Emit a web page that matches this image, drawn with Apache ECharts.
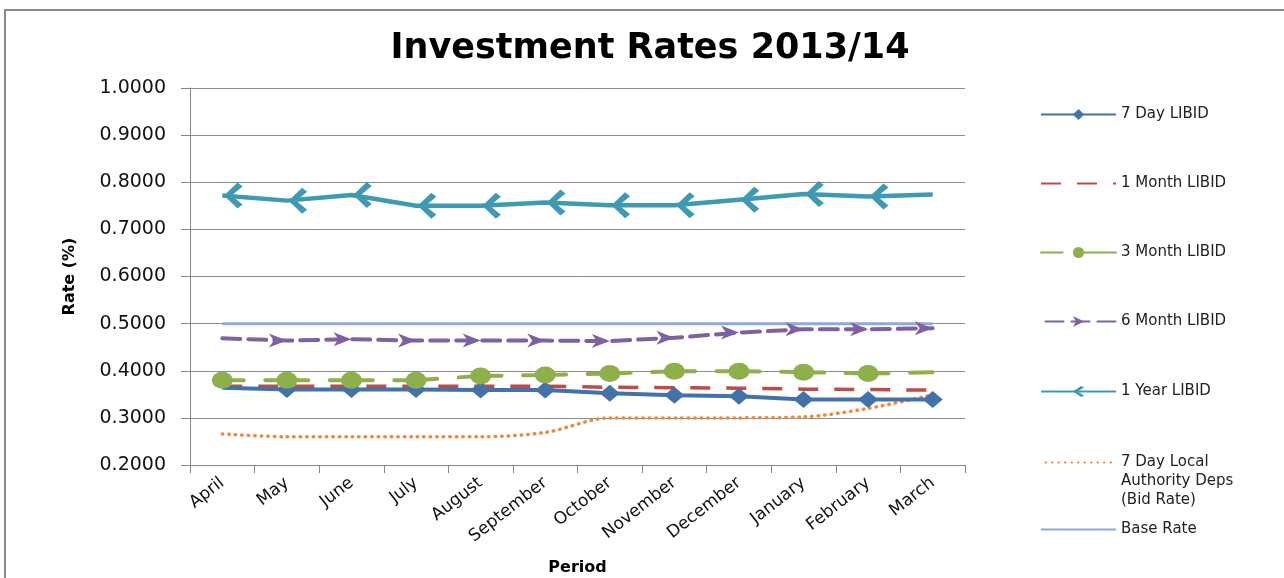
<!DOCTYPE html>
<html>
<head>
<meta charset="utf-8">
<script src="https://cdn.jsdelivr.net/npm/echarts@6/dist/echarts.min.js"></script>
<style>
  html, body { margin: 0; padding: 0; background: #fff; }
  #chart { width: 1284px; height: 578px; }
</style>
</head>
<body>
<div id="chart"></div>
<script>
// data
var months = ['April', 'May', 'June', 'July', 'August', 'September', 'October', 'November', 'December', 'January', 'February', 'March']
var yTicks = [0.2, 0.3, 0.4, 0.5, 0.6, 0.7, 0.8, 0.9, 1.0]

var sevenDay = [0.364, 0.360, 0.360, 0.360, 0.359, 0.359, 0.352, 0.348, 0.346, 0.339, 0.339, 0.339]
var oneMonth = [0.367, 0.367, 0.367, 0.367, 0.367, 0.367, 0.365, 0.364, 0.363, 0.361, 0.360, 0.359]
var threeMonth = [0.380, 0.380, 0.380, 0.380, 0.389, 0.391, 0.394, 0.399, 0.399, 0.397, 0.394, 0.397]
var sixMonth = [0.469, 0.464, 0.467, 0.464, 0.464, 0.464, 0.463, 0.470, 0.481, 0.488, 0.488, 0.490]
var oneYear = [0.772, 0.761, 0.773, 0.750, 0.750, 0.757, 0.751, 0.751, 0.763, 0.775, 0.770, 0.774]
var localAuth = [0.266, 0.260, 0.260, 0.260, 0.260, 0.269, 0.300, 0.300, 0.300, 0.302, 0.320, 0.349]
var baseRate = [0.5, 0.5, 0.5, 0.5, 0.5, 0.5, 0.5, 0.5, 0.5, 0.5, 0.5, 0.5]

var seriesNames = ['7 Day LIBID', '1 Month LIBID', '3 Month LIBID', '6 Month LIBID', '1 Year LIBID', '7 Day Local Authority Deps (Bid Rate)', 'Base Rate']
var legendCenters = [115, 184, 253, 322, 392, 461, 530]

var leftArrow = 'path://M16,0 L22,4 L9,13 L22,22 L16,26 L0,13 Z'
var rightArrow = 'path://M0,0 L18,7 L0,14 L5,7 Z'

var font = 'DejaVu Sans'

// markers sit on one end of each segment, so one end point has none
function dropMarker(arr, idx) {
  return arr.map(function (v, i) {
    return i === idx ? { value: v, symbol: 'none' } : v
  })
}

var noMarkerInLegend = [1, 5, 6]

var legends = seriesNames.map(function (name, i) {
  var multi = i === 5
  return {
    data: [name],
    orient: 'vertical',
    left: 1040,
    top: multi ? legendCenters[i] - 46 : legendCenters[i] - 10,
    padding: 0,
    itemWidth: 75,
    itemHeight: 14,
    itemGap: 5,
    selectedMode: false,
    itemStyle: noMarkerInLegend.indexOf(i) >= 0 ? { opacity: 0 } : {},
    formatter: multi ? function () { return '\n\n7 Day Local\nAuthority Deps\n(Bid Rate)' } : null,
    textStyle: {
      fontFamily: font,
      fontSize: 15,
      color: '#222',
      lineHeight: 19
    }
  }
})

var option = {
  animation: false,
  backgroundColor: '#fff',
  title: {
    text: 'Investment Rates 2013/14',
    left: 645,
    top: 26,
    textAlign: 'center',
    textStyle: { fontFamily: font, fontWeight: 'bold', fontSize: 35, color: '#000' }
  },
  legend: legends,
  graphic: [{
    type: 'rect',
    shape: { x: 5, y: 10, width: 1300, height: 620 },
    style: { fill: null, stroke: '#8a8a8a', lineWidth: 2 },
    silent: true
  }],
  grid: { left: 190, right: 319, top: 88, bottom: 113, outerBoundsMode: 'none', containLabel: false },
  xAxis: {
    type: 'category',
    data: months,
    boundaryGap: true,
    name: 'Period',
    nameLocation: 'middle',
    nameGap: 95,
    nameTextStyle: { fontFamily: font, fontWeight: 'bold', fontSize: 16, color: '#000' },
    axisLine: { lineStyle: { color: '#868686', width: 1 } },
    axisTick: { show: true, alignWithLabel: false, length: 8, lineStyle: { color: '#868686' } },
    axisLabel: { rotate: 38, margin: 16, interval: 0, fontFamily: font, fontSize: 17, color: '#111' }
  },
  yAxis: {
    type: 'value',
    min: yTicks[0],
    max: yTicks[yTicks.length - 1],
    interval: 0.1,
    name: 'Rate (%)',
    nameLocation: 'middle',
    nameGap: 112,
    nameTextStyle: { fontFamily: font, fontWeight: 'bold', fontSize: 16, color: '#000' },
    axisLine: { show: true, lineStyle: { color: '#868686', width: 1 } },
    axisTick: { show: true, length: 9, lineStyle: { color: '#868686' } },
    axisLabel: {
      margin: 24,
      fontFamily: font,
      fontSize: 19,
      color: '#111',
      formatter: function (v) { return v.toFixed(4) }
    },
    splitLine: { lineStyle: { color: '#8c8c8c', width: 1 } }
  },
  series: [
    {
      name: seriesNames[5],
      type: 'line',
      data: localAuth,
      smooth: 0.3,
      symbol: 'none',
      z: 3,
      itemStyle: { color: '#f0883a' },
      lineStyle: { color: '#f0883a', width: 3.5, type: [0.5, 6], cap: 'round' }
    },
    {
      name: seriesNames[6],
      type: 'line',
      data: baseRate,
      symbol: 'none',
      z: 2,
      itemStyle: { color: '#8eaadb' },
      lineStyle: { color: '#8eaadb', width: 3 }
    },
    {
      name: seriesNames[1],
      type: 'line',
      data: oneMonth,
      symbol: 'none',
      z: 3,
      itemStyle: { color: '#be4b48' },
      lineStyle: { color: '#be4b48', width: 3.5, type: [20, 16], dashOffset: 0 }
    },
    {
      name: seriesNames[0],
      type: 'line',
      data: dropMarker(sevenDay, 0),
      symbol: 'diamond',
      symbolSize: [20, 17],
      z: 4,
      itemStyle: { color: '#4372ab' },
      lineStyle: { color: '#4372ab', width: 4 }
    },
    {
      name: seriesNames[2],
      type: 'line',
      data: dropMarker(threeMonth, threeMonth.length - 1),
      symbol: 'circle',
      symbolSize: [21, 17],
      z: 5,
      itemStyle: { color: '#8db04a' },
      lineStyle: { color: '#8db04a', width: 4, type: [43, 21.5], dashOffset: 21.5, cap: 'round' }
    },
    {
      name: seriesNames[3],
      type: 'line',
      data: dropMarker(sixMonth, 0),
      symbol: rightArrow,
      symbolSize: [18, 14],
      symbolOffset: [-9, 0],
      z: 4,
      itemStyle: { color: '#7f60a0' },
      lineStyle: { color: '#7f60a0', width: 4, type: [18, 8], cap: 'round' }
    },
    {
      name: seriesNames[4],
      type: 'line',
      data: dropMarker(oneYear, oneYear.length - 1),
      symbol: leftArrow,
      symbolSize: [22, 26],
      symbolOffset: [11, 0],
      symbolKeepAspect: true,
      z: 4,
      itemStyle: { color: '#3e9ab3' },
      lineStyle: { color: '#3e9ab3', width: 4.5 }
    }
  ]
}

var chart = echarts.init(document.getElementById('chart'))
chart.setOption(option)
</script>
</body>
</html>
